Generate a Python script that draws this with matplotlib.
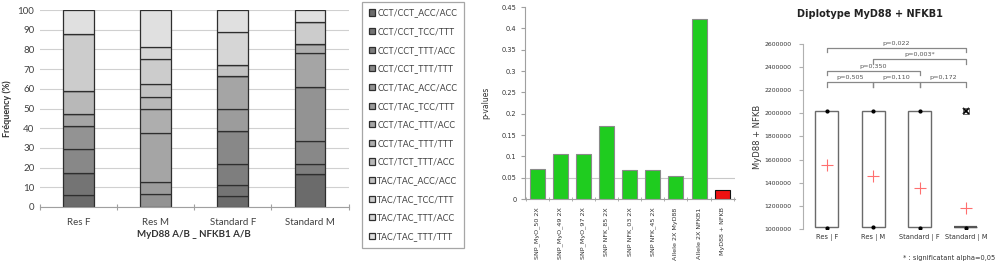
import matplotlib
matplotlib.use("Agg")
import matplotlib.pyplot as plt
import numpy as np

# ---- left panel: diplotype frequencies ----
groups = ["Res F", "Res M", "Standard F", "Standard M"]
diplotypes = [
    "CCT/CCT_ACC/ACC", "CCT/CCT_TCC/TTT", "CCT/CCT_TTT/ACC", "CCT/CCT_TTT/TTT",
    "CCT/TAC_ACC/ACC", "CCT/TAC_TCC/TTT", "CCT/TAC_TTT/ACC", "CCT/TAC_TTT/TTT",
    "CCT/TCT_TTT/ACC", "TAC/TAC_ACC/ACC", "TAC/TAC_TCC/TTT", "TAC/TAC_TTT/ACC",
    "TAC/TAC_TTT/TTT",
]
freq = [
    [6, 0, 5.5, 16.5],
    [11.5, 0, 5.5, 0],
    [0, 0, 11, 5.5],
    [12, 0, 16.5, 11.5],
    [11.5, 6.5, 0, 27.5],
    [0, 6, 11.5, 0],
    [6, 25, 16.5, 17],
    [0, 12.5, 0, 5],
    [12, 6, 0, 0],
    [0, 6.5, 5.5, 0],
    [29, 12.5, 0, 11],
    [0, 6, 17, 0],
    [12, 19, 11, 6],
]
grays = ["#6b6b6b", "#747474", "#7e7e7e", "#888888", "#939393", "#9c9c9c",
         "#a5a5a5", "#aeaeae", "#b8b8b8", "#c2c2c2", "#cccccc", "#d6d6d6",
         "#e0e0e0"]

# ---- middle panel: p-values ----
tests = ["SNP_MyO_50 2X", "SNP_MyO_49 2X", "SNP_MyO_97 2X", "SNP NFK_85 2X",
         "SNP NFK_03 2X", "SNP NFK_45 2X", "Allele 2X MyD88", "Allele 2X NFKB1",
         "MyD88 + NFKB"]
pvals = [0.070, 0.105, 0.105, 0.172, 0.068, 0.068, 0.055, 0.422, 0.021]
alpha = 0.05

# ---- right panel: diplotype score distribution ----
box_groups = ["Res | F", "Res | M", "Standard | F", "Standard | M"]
q1 = [1020000, 1020000, 1020000, 1020000]
q3 = [2020000, 2020000, 2020000, 1020000]
vmin = [1010000, 1020000, 1010000, 1010000]
vmax = [2020000, 2020000, 2020000, 1020000]
means = [1550000, 1460000, 1350000, 1180000]
outlier_x = [4]
outlier_y = [2020000]
pairs = [(1, 2, 2270000, "p=0,505"), (2, 3, 2270000, "p=0,110"),
         (3, 4, 2270000, "p=0,172"), (1, 3, 2370000, "p=0,350"),
         (2, 4, 2470000, "p=0,003*"), (1, 4, 2570000, "p=0,022")]

plt.rcParams["font.family"] = ["Lato", "DejaVu Sans"]
fig = plt.figure(figsize=(9.96, 2.64), dpi=100)

# left
ax1 = fig.add_axes([0.040, 0.216, 0.310, 0.746])
x = np.arange(len(groups))
bottom = np.zeros(len(groups))
handles = []
for vals, c, lab in zip(freq, grays, diplotypes):
    b = ax1.bar(x, vals, 0.40, bottom=bottom, color=c, edgecolor="#2e2e2e",
                linewidth=0.9, label=lab)
    handles.append(b)
    bottom += np.array(vals)
ax1.set_xlim(-0.5, 3.5)
ax1.set_ylim(0, 100)
ax1.set_yticks(range(0, 101, 10))
ax1.yaxis.grid(True, color="#d0d0d0", linewidth=0.8)
ax1.set_axisbelow(True)
for s in ["top", "right", "left"]:
    ax1.spines[s].set_visible(False)
ax1.spines["bottom"].set_color("#a0a0a0")
ax1.set_xticks([-0.5, 0.5, 1.5, 2.5, 3.5])
ax1.set_xticklabels([])
ax1.tick_params(axis="x", length=4, color="#a0a0a0", direction="inout")
ax1.set_xticks(x, minor=True)
ax1.set_xticklabels(groups, minor=True, fontsize=7, color="#404040")
ax1.tick_params(axis="x", which="minor", length=0, pad=8)
ax1.tick_params(axis="y", length=0, labelsize=7, labelcolor="#404040", pad=4)
ax1.set_xlabel("MyD88 A/B _ NFKB1 A/B", fontsize=7, fontweight="bold",
               color="#333333", labelpad=2)
ax1.set_ylabel("Fréquency (%)", fontsize=6.5, fontweight="bold", color="#333333",
               labelpad=4)

leg = fig.legend(handles=handles, loc="upper left",
                 bbox_to_anchor=(362 / 996, 1 - 2 / 264), fontsize=6.3,
                 frameon=True, fancybox=False, edgecolor="#909090",
                 handlelength=0.7, handleheight=0.7, handletextpad=0.3,
                 labelspacing=1.1, borderpad=0.75, borderaxespad=0)
leg.get_frame().set_linewidth(0.9)
for t in leg.get_texts():
    t.set_color("#404040")

# middle
ax2 = fig.add_axes([0.527, 0.246, 0.211, 0.727])
xm = np.arange(len(tests))
colors = ["#1fcc1f"] * (len(tests) - 1) + ["#ee1111"]
edges = ["#8a8a8a"] * (len(tests) - 1) + ["#111111"]
ax2.bar(xm, pvals, 0.65, color=colors, edgecolor=edges, linewidth=0.8, zorder=2)
ax2.axhline(alpha, color="#c8c8c8", linewidth=0.8, zorder=1)
ax2.set_xlim(-0.54, 8.56)
ax2.set_ylim(0, 0.45)
ax2.set_yticks(np.arange(0, 0.451, 0.05))
ax2.set_yticklabels(["0", "0.05", "0.1", "0.15", "0.2", "0.25", "0.3", "0.35",
                     "0.4", "0.45"])
for s in ["top", "right"]:
    ax2.spines[s].set_visible(False)
for s in ["left", "bottom"]:
    ax2.spines[s].set_color("#a0a0a0")
    ax2.spines[s].set_linewidth(0.8)
ax2.set_xticks(xm)
ax2.set_xticklabels(tests, rotation=90, fontsize=4.6, color="#333333",
                    family="DejaVu Sans")
ax2.tick_params(axis="x", length=0, pad=6)
ax2.set_xticks(np.arange(-0.5, 8.6, 1), minor=True)
ax2.tick_params(axis="x", which="minor", length=3, color="#a0a0a0",
                direction="inout")
ax2.tick_params(axis="y", length=3, color="#a0a0a0", labelsize=4.8,
                labelcolor="#333333", pad=3)
for lbl in ax2.get_yticklabels():
    lbl.set_family("DejaVu Sans")
ax2.set_ylabel("p-values", fontsize=5.5, color="#333333", family="DejaVu Sans",
               labelpad=8)

# right
ax3 = fig.add_axes([0.806, 0.133, 0.187, 0.700])
xb = np.arange(1, len(box_groups) + 1)
heights = np.array(q3) - np.array(q1)
ax3.bar(xb, heights, 0.5, bottom=q1, color="white", edgecolor="#6a6a6a",
        linewidth=1.0, zorder=2)
ax3.hlines([q1[3]], xb[3] - 0.25, xb[3] + 0.25, color="#555555", linewidth=1.6,
           zorder=3)
ax3.plot(xb, vmin, "o", color="black", markersize=2, zorder=4)
ax3.plot(xb[:3], vmax[:3], "o", color="black", markersize=2, zorder=4)
ax3.plot(xb, means, "+", color="#ff6f6f", markersize=9, mew=0.8, zorder=4)
ax3.plot(outlier_x, outlier_y, "x", color="black", markersize=4, mew=1.3, zorder=4)
ax3.plot(outlier_x, outlier_y, "s", mfc="none", mec="#333333", markersize=4,
         mew=0.5, zorder=4)
tick_h = 40000
for a, b, y, txt in pairs:
    ax3.plot([a, a, b, b], [y - tick_h, y, y, y - tick_h], color="#888888",
             linewidth=0.9, clip_on=False)
    ax3.text((a + b) / 2, y + 15000, txt, ha="center", va="bottom", fontsize=4.6,
             color="#555555", family="DejaVu Sans")
ax3.set_xlim(0.48, 4.5)
ax3.set_ylim(1000000, 2600000)
ax3.set_yticks(np.arange(1000000, 2600001, 200000))
ax3.set_yticklabels([str(v) for v in range(1000000, 2600001, 200000)])
for s in ["top", "right", "bottom"]:
    ax3.spines[s].set_visible(False)
ax3.spines["left"].set_color("#b0b0b0")
ax3.spines["left"].set_linewidth(0.8)
ax3.tick_params(axis="y", length=3, color="#b0b0b0", labelsize=4.4,
                labelcolor="#333333", pad=5)
for lbl in ax3.get_yticklabels():
    lbl.set_family("DejaVu Sans")
ax3.set_xticks(xb)
ax3.set_xticklabels(box_groups, fontsize=4.8, color="#333333", family="DejaVu Sans")
ax3.tick_params(axis="x", length=0, pad=4)
ax3.set_ylabel("MyD88 + NFKB", fontsize=6, color="#333333", family="DejaVu Sans",
               labelpad=2)
fig.text(870 / 996, 1 - 14 / 264, "Diplotype MyD88 + NFKB1", ha="center",
         va="center", fontsize=7, fontweight="bold", color="#222222",
         family="DejaVu Sans")
fig.text(995 / 996, 1 - 258 / 264, "* : significatant alpha=0,05", ha="right",
         va="center", fontsize=4.8, color="#333333", family="DejaVu Sans")

fig.savefig("out.png", dpi=100)
